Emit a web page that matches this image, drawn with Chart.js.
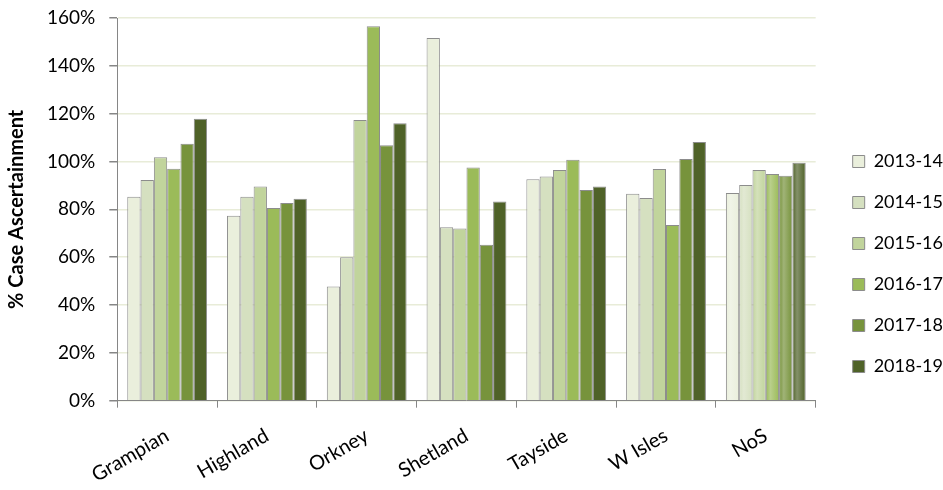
<!DOCTYPE html>
<html>
<head>
<meta charset="utf-8">
<script src="https://cdn.jsdelivr.net/npm/chart.js@4/dist/chart.umd.min.js"></script>
<style>
    html, body { margin: 0; padding: 0; background: #fff; }
    #wrap { width: 943px; height: 490px; }
</style>
</head>
<body>
<div id="wrap"><canvas id="caseChart" width="943" height="490"></canvas></div>
<script>
// board areas
const boards = ['Grampian', 'Highland', 'Orkney', 'Shetland', 'Tayside', 'W Isles', 'NoS'];

// % case ascertainment per year
const y2013_14 = [85.3, 77.3, 47.7, 151.6, 92.6, 86.5, 86.8];
const y2014_15 = [92.3, 85.3, 60.0, 72.5, 93.7, 84.7, 90.2];
const y2015_16 = [101.8, 89.5, 117.4, 72.0, 96.5, 96.9, 96.5];
const y2016_17 = [97.0, 80.6, 156.6, 97.5, 100.7, 73.5, 94.8];
const y2017_18 = [107.4, 82.6, 106.8, 65.2, 88.1, 101.0, 94.0];
const y2018_19 = [117.9, 84.4, 116.0, 83.3, 89.5, 108.2, 99.5];

const yearLabels = ['2013-14', '2014-15', '2015-16', '2016-17', '2017-18', '2018-19'];
const yearValues = [y2013_14, y2014_15, y2015_16, y2016_17, y2017_18, y2018_19];
const yearColors = ['#eaefdc', '#d5e0c0', '#c1d49c', '#9bbb59', '#77933c', '#4f6228'];

const fontFamily = 'Lato, "Open Sans", sans-serif';

function lighten(hex, amt) {
    const n = parseInt(hex.slice(1), 16);
    const r = (n >> 16) & 255, g = (n >> 8) & 255, b = n & 255;
    const mix = c => Math.round(c + (255 - c) * amt);
    return `rgb(${mix(r)}, ${mix(g)}, ${mix(b)})`;
}

// gives each bar a soft horizontal shine like the original office chart
const barShine = {
    id: 'barShine',
    beforeDatasetsDraw(chart) {
        const ctx = chart.ctx;
        chart.data.datasets.forEach((ds, i) => {
            const meta = chart.getDatasetMeta(i);
            meta.data.forEach(bar => {
                const half = bar.width / 2;
                const g = ctx.createLinearGradient(bar.x - half, 0, bar.x + half, 0);
                g.addColorStop(0, ds.baseColor);
                g.addColorStop(0.35, lighten(ds.baseColor, 0.3));
                g.addColorStop(1, ds.baseColor);
                bar.options.backgroundColor = g;
            });
        });
    }
};

// legend sits a bit further right and lower than chart.js puts it
const legendNudge = {
    id: 'legendNudge',
    afterLayout(chart) {
        const lg = chart.legend;
        lg.left += 14; lg.right += 14;
        lg.top += 12; lg.bottom += 12;
    }
};

new Chart(document.getElementById('caseChart').getContext('2d'), {
    type: 'bar',
    data: {
        labels: boards,
        datasets: yearLabels.map((label, i) => ({
            label: label,
            data: yearValues[i],
            baseColor: yearColors[i],
            backgroundColor: yearColors[i],
            borderColor: '#8c8c8c',
            borderWidth: 1,
            categoryPercentage: 0.8,
            barPercentage: 1.0
        }))
    },
    options: {
        responsive: false,
        animation: false,
        layout: { padding: { top: 1, left: 1, right: 4, bottom: -13 } },
        plugins: {
            legend: {
                position: 'right',
                labels: {
                    font: { family: fontFamily, size: 18 },
                    color: '#000',
                    boxWidth: 12,
                    boxHeight: 12,
                    padding: 23
                }
            },
            tooltip: { enabled: false }
        },
        scales: {
            y: {
                min: 0,
                max: 160,
                // tick padding would otherwise push the plot top down
                afterFit: s => { s.paddingTop = 18; },
                ticks: {
                    stepSize: 20,
                    padding: 14,
                    color: '#000',
                    font: { family: fontFamily, size: 19 },
                    callback: v => v + '%'
                },
                grid: {
                    color: '#e8ecd8',
                    lineWidth: 1.5,
                    tickColor: '#868686',
                    tickLength: 8
                },
                border: { color: '#868686', width: 1 },
                title: {
                    display: true,
                    text: '% Case Ascertainment',
                    color: '#000',
                    font: { family: fontFamily, size: 20, weight: 'bold' }
                }
            },
            x: {
                ticks: {
                    color: '#000',
                    font: { family: fontFamily, size: 20 },
                    minRotation: 30,
                    maxRotation: 30,
                    padding: 16
                },
                grid: {
                    drawOnChartArea: false,
                    tickColor: '#868686',
                    tickLength: 7
                },
                border: { color: '#868686', width: 1 }
            }
        }
    },
    plugins: [barShine, legendNudge]
});
</script>
</body>
</html>
